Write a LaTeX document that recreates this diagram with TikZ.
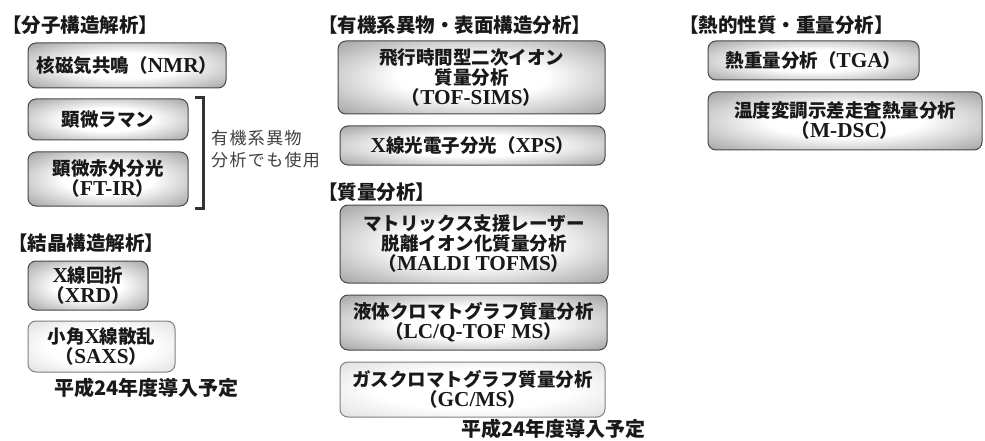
\documentclass[tikz,border=0pt]{standalone}
\usepackage{fontspec}
\setmainfont{Liberation Serif}
\newfontfamily\jp{Noto Sans CJK JP}
\newfontfamily\lt[Scale=1.15]{Liberation Serif}
\newcommand\rl[1]{{\lt #1}}
\pgfdeclareradialshading{shdark}{\pgfpoint{0bp}{0bp}}{color(0bp)=(white); color(14bp)=(white); color(50bp)=(black!60); color(75bp)=(black!62)}
\pgfdeclareradialshading{shlight}{\pgfpoint{0bp}{0bp}}{color(0bp)=(white); color(18bp)=(white); color(50bp)=(black!22); color(75bp)=(black!24)}
\tikzset{
  base/.style={rectangle, rounded corners=8pt, line width=1pt, align=center,
    inner sep=0pt, text=black!90,
    font=\jp\bfseries\fontsize{18.5}{20}\selectfont},
  dbox/.style={base, draw=black!72, shading=shdark},
  lbox/.style={base, draw=black!50, shading=shlight},
  head/.style={anchor=west, inner sep=0pt, text=black!90,
    font=\jp\bfseries\fontsize{19.5}{20}\selectfont},
  note/.style={anchor=west, inner sep=0pt, text=black!90,
    font=\jp\bfseries\fontsize{20}{20}\selectfont},
  remark/.style={anchor=west, inner sep=0pt, text=black!75, align=left,
    font=\jp\fontsize{17}{22}\selectfont\addfontfeature{LetterSpace=8}},
  brk/.style={draw=black!80, line width=3pt}
}
\begin{document}
\begin{tikzpicture}[x=1pt, y=-1pt]
\useasboundingbox (0,0) rectangle (985,441);
% left column
\node[head] (h1) at (2,25) {【分子構造解析】};
\node[dbox, minimum width=198pt, minimum height=45pt] (nmr) at (127,65.5) {核磁気共鳴（\rl{NMR}）};
\node[dbox, minimum width=160pt, minimum height=41pt] (raman) at (108,119.5) {顕微ラマン};
\node[dbox, minimum width=160pt, minimum height=54pt] (ftir) at (108,179) {顕微赤外分光\\（\rl{FT-IR}）};
\coordinate (bt) at (203,98);
\coordinate (bb) at (203,208);
\draw[brk] ([xshift=-8pt]bt) -- (bt) -- (bb) -- ([xshift=-8pt]bb);
\node[remark] (rm) at (211,149) {有機系異物\\分析でも使用};
\node[head] (h2) at (8,243) {【結晶構造解析】};
\node[dbox, minimum width=120pt, minimum height=49pt] (xrd) at (88,285.5) {\rl{X}線回折\\（\rl{XRD}）};
\node[lbox, minimum width=147pt, minimum height=51pt] (saxs) at (101.5,346.5) {小角\rl{X}線散乱\\（\rl{SAXS}）};
\node[note] (n1) at (54,388) {平成24年度導入予定};
% middle column
\node[head] (h3) at (318,25) {【有機系異物・表面構造分析】};
\node[dbox, minimum width=267pt, minimum height=73pt] (tof) at (471.5,77.5) {飛行時間型二次イオン\\質量分析\\（\rl{TOF-SIMS}）};
\node[dbox, minimum width=265pt, minimum height=39pt] (xps) at (472.5,145.5) {\rl{X}線光電子分光（\rl{XPS}）};
\node[head] (h4) at (318,192) {【質量分析】};
\node[dbox, minimum width=268pt, minimum height=78pt] (maldi) at (474,244) {マトリックス支援レーザー\\脱離イオン化質量分析\\（\rl{MALDI TOFMS}）};
\node[dbox, minimum width=267pt, minimum height=55pt] (lc) at (473.5,322.5) {液体クロマトグラフ質量分析\\（\rl{LC/Q-TOF MS}）};
\node[lbox, minimum width=265pt, minimum height=55pt] (gc) at (472.5,389.5) {ガスクロマトグラフ質量分析\\（\rl{GC/MS}）};
\node[note] (n2) at (461,429) {平成24年度導入予定};
% right column
\node[head] (h5) at (679,25) {【熱的性質・重量分析】};
\node[dbox, minimum width=211pt, minimum height=39pt] (tga) at (813.5,60.5) {熱重量分析（\rl{TGA}）};
\node[dbox, minimum width=274pt, minimum height=58pt] (mdsc) at (845,121) {温度変調示差走査熱量分析\\（\rl{M-DSC}）};
\end{tikzpicture}
\end{document}
